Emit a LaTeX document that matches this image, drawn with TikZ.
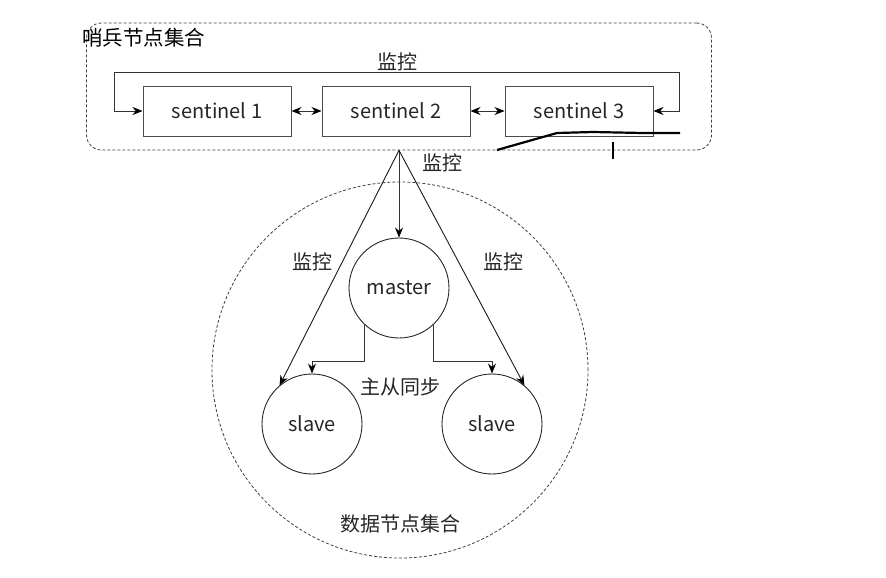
\documentclass[tikz,border=0pt]{standalone}
\usepackage{fontspec}
\setmainfont{Noto Sans CJK SC}
\usetikzlibrary{arrows.meta,positioning}

\begin{document}
\begin{tikzpicture}[x=1pt,y=-1pt,
txt/.style={font=\fontsize{20}{23}\selectfont,text=black!85},
setbox/.style={draw=black!75,dashed,dash pattern=on 3pt off 2pt,rounded corners=15pt,line width=0.8pt},
senbox/.style={draw=black!70,rectangle,line width=1pt,minimum width=148,minimum height=50,txt},
nodecirc/.style={draw=black!85,circle,line width=0.9pt,minimum size=100,inner sep=0pt,txt},
arr/.style={draw=black!80,line width=0.9pt,-{Stealth[length=10pt,width=8pt,color=black]}},
darr/.style={draw=black!80,line width=0.9pt,{Stealth[length=10pt,width=8pt,color=black]}-{Stealth[length=10pt,width=8pt,color=black]}},
scribble/.style={draw=black,line width=2.2pt}]
\useasboundingbox (0,0) rectangle (886,578);

% sentinel group
\node (sset) [setbox,minimum width=625,minimum height=127] at (399,86.5) {};
\node (settitle) [anchor=west,font=\fontsize{20.5}{23}\selectfont,inner sep=0pt] at (82,38) {哨兵节点集合};

\node (s1) [senbox] at (217,111) {sentinel 1};
\node (s2) [senbox] at (396,111) {sentinel 2};
\node (s3) [senbox] at (579,111) {sentinel 3};
\draw[darr] (s1) -- (s2);
\draw[darr] (s2) -- (s3);
\draw[darr] (s1.west) -- ++(-28,0) -- ++(0,-39) -| ++(565,39) -- (s3.east);
\node (montop) [txt] at (397,62) {监控};

% data group
\node (dset) [circle,draw=black!75,dashed,dash pattern=on 3pt off 2pt,line width=0.8pt,minimum size=376] at (400,370) {};
\node (master) [nodecirc] at (399,288) {master};
\node (slaveL) [nodecirc] at (312,424) {slave};
\node (slaveR) [nodecirc] at (492,424) {slave};

\draw[arr] (sset.south) -- (master.north);
\draw[arr,draw=black!90] (sset.south) -- (slaveL.130);
\draw[arr,draw=black!90] (sset.south) -- (slaveR.50);
\draw[arr] (master.227) -- ++(0,37) -| (slaveL.north);
\draw[arr] (master.313) -- ++(0,37) -| (slaveR.north);

\node (monmid) [txt] at (442,163) {监控};
\node (monleft) [txt] at (312,262) {监控};
\node (monright) [txt] at (503,262) {监控};
\node (sync) [txt] at (400,387) {主从同步};
\node (dtitle) [txt] at (400,524) {数据节点集合};

% pen marks
\draw[scribble] (497,150) -- (557,133) -- (593,132) -- (643,133) -- (680,133);
\draw[scribble] (613,142) -- (613,159);
\end{tikzpicture}
\end{document}
